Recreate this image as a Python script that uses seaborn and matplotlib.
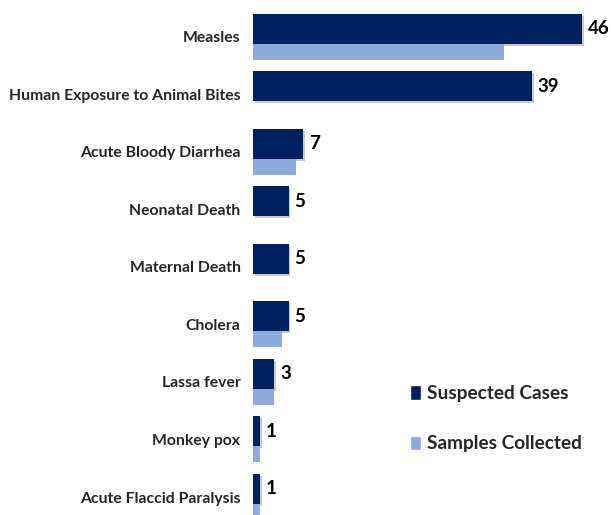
import matplotlib
matplotlib.use("Agg")
import matplotlib.pyplot as plt
import matplotlib.patheffects as pe
from matplotlib.patches import Patch
import pandas as pd
import seaborn as sns

diseases = ["Measles", "Human Exposure to Animal Bites", "Acute Bloody Diarrhea",
            "Neonatal Death", "Maternal Death", "Cholera", "Lassa fever",
            "Monkey pox", "Acute Flaccid Paralysis"]
suspected = [46, 39, 7, 5, 5, 5, 3, 1, 1]
samples = [35, 0, 6, 0, 0, 4, 3, 1, 1]

dark = "#002060"
light = "#8FAADC"

df = pd.DataFrame({"disease": diseases, "suspected": suspected, "samples": samples})

sns.set_style("white")
plt.rcParams["font.family"] = ["Lato", "DejaVu Sans"]

fig = plt.figure(figsize=(6.11, 5.15), dpi=100)
ax = fig.add_axes([253 / 611, 0, 358 / 611, 1])

sns.barplot(data=df, x="suspected", y="disease", color=dark, width=0.52,
            saturation=1, linewidth=0, ax=ax)
sns.barplot(data=df, x="samples", y="disease", color=light, width=0.28,
            saturation=1, linewidth=0, ax=ax)

# dark bar on top of the group, light bar just below it
for p in ax.containers[0]:
    p.set_y(p.get_y() - 0.14)
    p.set_path_effects([pe.SimplePatchShadow(offset=(1.2, -1.2), alpha=0.22),
                        pe.Normal()])
for p in ax.containers[1]:
    p.set_y(p.get_y() + 0.26)

ax.bar_label(ax.containers[0], labels=[str(v) for v in suspected], padding=4,
             fontsize=13.5, fontweight="bold", color="black")

ax.set_xlim(0, 50)
ax.set_ylim(8.313, -0.643)
ax.set_xlabel("")
ax.set_ylabel("")
ax.set_xticks([])
ax.tick_params(axis="y", length=0, pad=9)
for lab in ax.get_yticklabels():
    lab.set_fontweight("bold")
    lab.set_fontsize(11.3)
for s in ax.spines.values():
    s.set_visible(False)

handles = [Patch(facecolor=dark, label="Suspected Cases"),
           Patch(facecolor=light, label="Samples Collected")]
fig.legend(handles=handles, loc="upper left", bbox_to_anchor=(393 / 611, 1 - 368 / 515),
           frameon=False, handlelength=0.55, handleheight=0.8, handletextpad=0.35,
           labelspacing=1.75, prop={"weight": "bold", "size": 13.7})

fig.savefig("out.png", dpi=100)
